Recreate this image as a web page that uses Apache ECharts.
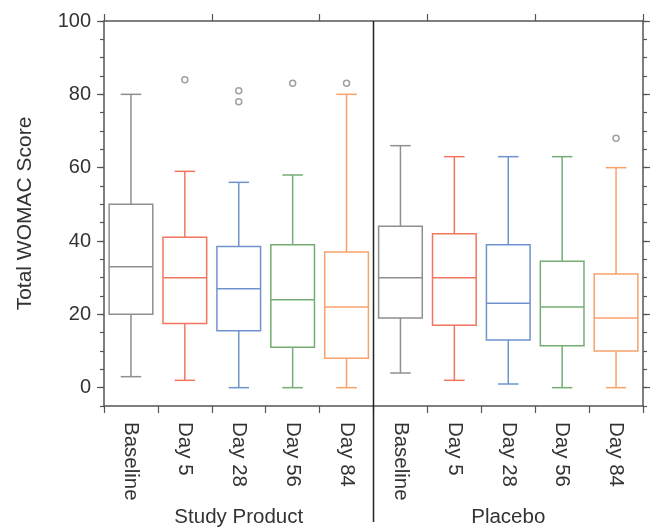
<!DOCTYPE html>
<html>
<head>
<meta charset="utf-8">
<script src="https://cdn.jsdelivr.net/npm/echarts@6/dist/echarts.min.js"></script>
<style>
html,body{margin:0;padding:0;background:#fff;}
#chart{width:652px;height:529px;}
</style>
</head>
<body>
<div id="chart"></div>
<script>
// ---- data ----
var categories = ['Baseline','Day 5','Day 28','Day 56','Day 84','Baseline','Day 5','Day 28','Day 56','Day 84'];
var groups = ['Study Product','Placebo'];
var lows    = [3, 2, 0, 0, 0,   4, 2, 1, 0, 0];
var q1s     = [20, 17.5, 15.5, 11, 8,   19, 17, 13, 11.4, 10];
var medians = [33, 30, 27, 24, 22,   30, 30, 23, 22, 19];
var q3s     = [50, 41, 38.5, 39, 37,   44, 42, 39, 34.5, 31];
var highs   = [80, 59, 56, 58, 80,   66, 63, 63, 63, 60];
var outliers = [[1, 84], [2, 81], [2, 78], [3, 83], [4, 83], [9, 68]];
var yTickLabels = [0, 20, 40, 60, 80, 100];
var boxColors = ['#8f8f8f', '#f2765f', '#6f93cf', '#74ad74', '#f8a26c'];

// ---- layout ----
var W = 652, H = 529;
var gridLeft = 104, gridRight = 9, gridTop = 21, gridBottom = 123;
var FONT = '"Liberation Sans", Arial, Helvetica, sans-serif';
var axisColor = '#555';
var textColor = '#333';

var chart = echarts.init(document.getElementById('chart'), null, {renderer: 'canvas'});

var boxData = categories.map(function (c, i) {
  return [i, lows[i], q1s[i], medians[i], q3s[i], highs[i]];
});

function renderBox(params, api) {
  var idx = api.value(0);
  var catW = api.size([1, 0])[0];
  var halfBox = catW * 0.405;
  var halfCap = catW * 0.19;
  var pLow = api.coord([idx, api.value(1)]);
  var pQ1 = api.coord([idx, api.value(2)]);
  var pMed = api.coord([idx, api.value(3)]);
  var pQ3 = api.coord([idx, api.value(4)]);
  var pHigh = api.coord([idx, api.value(5)]);
  var cx = pMed[0];
  var color = boxColors[idx % 5];
  var st = {stroke: color, lineWidth: 1.5, fill: null};
  return {
    type: 'group',
    children: [
      {type: 'rect', shape: {x: cx - halfBox, y: pQ3[1], width: halfBox * 2, height: pQ1[1] - pQ3[1]}, style: {stroke: color, lineWidth: 1.5, fill: 'transparent'}},
      {type: 'line', shape: {x1: cx - halfBox, y1: pMed[1], x2: cx + halfBox, y2: pMed[1]}, style: st},
      {type: 'line', shape: {x1: cx, y1: pQ3[1], x2: cx, y2: pHigh[1]}, style: st},
      {type: 'line', shape: {x1: cx, y1: pQ1[1], x2: cx, y2: pLow[1]}, style: st},
      {type: 'line', shape: {x1: cx - halfCap, y1: pHigh[1], x2: cx + halfCap, y2: pHigh[1]}, style: st},
      {type: 'line', shape: {x1: cx - halfCap, y1: pLow[1], x2: cx + halfCap, y2: pLow[1]}, style: st}
    ]
  };
}

function yAxisBase(pos, withLabels, major) {
  var ax = {
    type: 'value',
    position: pos,
    min: -5,
    max: 100,
    interval: 5,
    splitLine: {show: false},
    axisLine: {show: !major, onZero: false, lineStyle: {color: axisColor, width: 1.5}},
    axisTick: {show: true, inside: false, length: major ? 7 : 4, lineStyle: {color: axisColor, width: 1.2}},
    axisLabel: {show: false}
  };
  if (major) {
    ax.axisTick.customValues = yTickLabels;
    if (withLabels) {
      ax.axisLabel = {show: true, customValues: yTickLabels, fontSize: 20, color: textColor, fontFamily: FONT, margin: 13};
      ax.name = 'Total WOMAC Score';
      ax.nameLocation = 'middle';
      ax.nameGap = 68;
      ax.nameTextStyle = {fontSize: 21, color: textColor, fontFamily: FONT};
    }
  }
  return ax;
}

var option = {
  backgroundColor: '#fff',
  animation: false,
  grid: {left: gridLeft, right: gridRight, top: gridTop, bottom: gridBottom, containLabel: false},
  xAxis: [
    {
      type: 'category', data: categories, position: 'bottom', boundaryGap: true,
      axisLine: {show: true, onZero: false, lineStyle: {color: axisColor, width: 1.5}},
      axisTick: {show: true, inside: false, length: 7, lineStyle: {color: axisColor, width: 1.2}},
      axisLabel: {rotate: -90, fontSize: 20.5, color: textColor, fontFamily: FONT, margin: 16, interval: 0},
      splitLine: {show: false}
    },
    {
      type: 'category', data: categories, position: 'top', boundaryGap: true,
      axisLine: {show: true, onZero: false, lineStyle: {color: axisColor, width: 1.5}},
      axisTick: {show: true, inside: false, length: 7, lineStyle: {color: axisColor, width: 1.2}},
      axisLabel: {show: false},
      splitLine: {show: false}
    },
    {
      type: 'category', data: groups, position: 'bottom', offset: 96, boundaryGap: true,
      axisLine: {show: false}, axisTick: {show: false},
      axisLabel: {fontSize: 20.5, color: textColor, fontFamily: FONT, margin: 5, interval: 0},
      splitLine: {show: false}
    }
  ],
  yAxis: [
    yAxisBase('left', true, false),
    yAxisBase('left', true, true),
    yAxisBase('right', false, false),
    yAxisBase('right', false, true)
  ],
  series: [
    {
      type: 'custom',
      xAxisIndex: 0, yAxisIndex: 0,
      renderItem: renderBox,
      data: boxData,
      encode: {x: 0, y: [1, 2, 3, 4, 5]},
      z: 3
    },
    {
      type: 'scatter',
      xAxisIndex: 0, yAxisIndex: 0,
      data: outliers,
      symbol: 'circle',
      symbolSize: 6,
      itemStyle: {color: '#fff', borderColor: '#888', borderWidth: 1.5},
      z: 4
    }
  ],
  graphic: [
    {
      type: 'line',
      shape: {
        x1: gridLeft + (W - gridLeft - gridRight) / 2, y1: gridTop,
        x2: gridLeft + (W - gridLeft - gridRight) / 2, y2: 522
      },
      style: {stroke: '#222', lineWidth: 1.5},
      z: 10
    }
  ]
};
chart.setOption(option);
</script>
</body>
</html>
